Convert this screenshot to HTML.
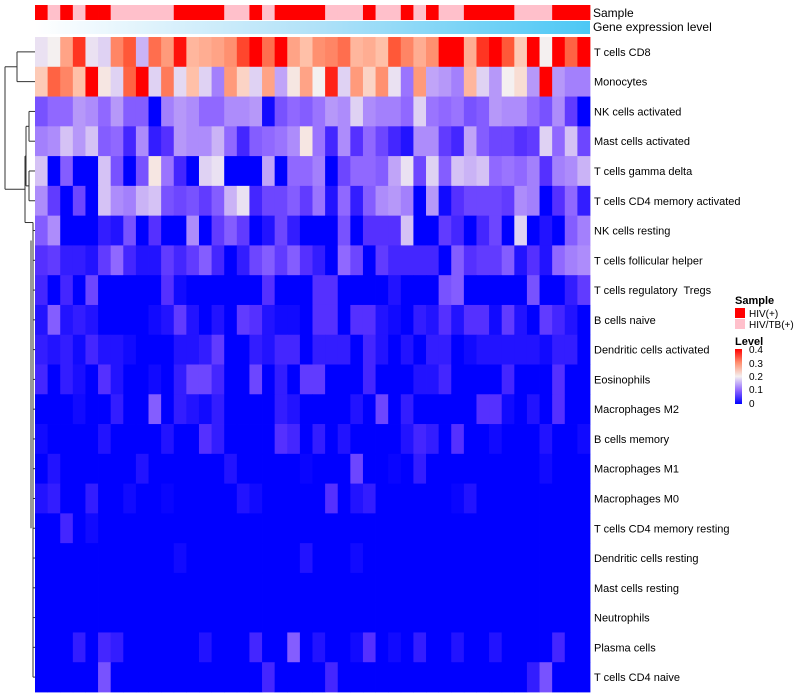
<!DOCTYPE html>
<html><head><meta charset="utf-8"><style>
body{margin:0;background:#fff;}
svg{display:block;font-family:"Liberation Sans",sans-serif;}
svg text{white-space:pre;}
</style></head><body>
<svg id="chart" width="800" height="700">
<defs>
<linearGradient id="geneGrad" x1="0" x2="1" y1="0" y2="0"><stop offset="0" stop-color="#ffffff"/><stop offset="0.5" stop-color="#b2e2f8"/><stop offset="1" stop-color="#4cc8f5"/></linearGradient>
<linearGradient id="levelGrad" x1="0" x2="0" y1="1" y2="0"><stop offset="0" stop-color="#0000ff"/><stop offset="0.25" stop-color="#9068ff"/><stop offset="0.5" stop-color="#f4f0f0"/><stop offset="0.75" stop-color="#ff9070"/><stop offset="1" stop-color="#ff0000"/></linearGradient>
</defs>
<g id="dendro" stroke="#333" stroke-width="1" fill="none"></g>
<g id="cells"></g>
<g id="annot"></g>
<g id="labels"></g>
<text x="593" y="17" font-size="12">Sample</text>
<text x="593" y="31" font-size="12">Gene expression level</text>
<g>
<text x="735" y="304" font-size="11" font-weight="bold">Sample</text>
<rect x="735" y="308" width="10" height="10" fill="#ff0000"/>
<text x="749" y="317" font-size="10">HIV(+)</text>
<rect x="735" y="319" width="10" height="10" fill="#ffc0cb"/>
<text x="749" y="328" font-size="10">HIV/TB(+)</text>
<text x="735" y="345" font-size="11" font-weight="bold">Level</text>
<rect x="735" y="349" width="7" height="55" fill="url(#levelGrad)"/>
<g font-size="10">
<text x="749" y="353">0.4</text><text x="749" y="367">0.3</text><text x="749" y="380">0.2</text><text x="749" y="393">0.1</text><text x="749" y="407">0</text>
</g>
</g>
</svg>
<script>
const rowNames=["T cells CD8","Monocytes","NK cells activated","Mast cells activated","T cells gamma delta","T cells CD4 memory activated","NK cells resting","T cells follicular helper","T cells regulatory  Tregs","B cells naive","Dendritic cells activated","Eosinophils","Macrophages M2","B cells memory","Macrophages M1","Macrophages M0","T cells CD4 memory resting","Dendritic cells resting","Mast cells resting","Neutrophils","Plasma cells","T cells CD4 naive"];
const sampleGroup=[1,0,1,0,1,1,0,0,0,0,0,1,1,1,1,0,0,1,0,1,1,1,1,0,0,0,1,0,0,1,0,1,0,0,1,1,1,1,0,0,0,1,1,1];
const r0=[.19,.2,.28,.37,.19,.18,.31,.35,.16,.33,.29,.39,.26,.27,.28,.3,.36,.4,.33,.4,.28,.25,.3,.31,.33,.26,.27,.25,.35,.31,.27,.3,.4,.4,.27,.37,.4,.35,.24,.4,.2,.4,.34,.4];
const r1=[.24,.34,.31,.25,.4,.21,.18,.34,.4,.18,.32,.185,.25,.18,.12,.29,.23,.18,.28,.15,.21,.28,.2,.38,.18,.29,.23,.3,.19,.11,.29,.15,.14,.12,.26,.18,.14,.2,.22,.14,.4,.14,.12,.12];
const r2=[.08,.1,.1,.14,.13,.1,.14,.09,.09,0,.12,.14,.13,.1,.1,.13,.13,.14,.01,.08,.1,.09,.11,.14,.13,.18,.13,.12,.12,.1,.18,.11,.1,.11,.08,.09,.14,.13,.13,.1,.08,.13,.06,0];
const r3=[.12,.13,.17,.14,.17,.09,.1,.04,.13,.03,.05,.14,.13,.13,.16,.1,.04,.09,.1,.11,.13,.21,.11,.04,.13,.05,.1,.07,.04,.02,.13,.13,.06,.04,.15,.09,.07,.07,.05,.06,.18,.1,.17,.07];
const r4=[.17,0,.09,0,0,.17,.08,0,.08,.21,.11,.04,0,.18,.19,0,0,0,.15,0,.1,.1,.12,0,.07,.1,.1,.09,.15,.19,.07,.18,.09,.17,.16,.17,.1,.11,.1,.12,.05,.12,.13,.16];
const r5=[.13,.06,0,.07,0,.17,.13,.12,.16,.17,.08,.07,.08,.06,.09,.16,.19,.04,.07,.07,.09,.06,.11,.02,.1,.03,.09,.13,.14,.12,0,.14,.01,.05,.07,.07,.07,.06,.13,.12,0,.05,.1,.03];
const r6=[.09,.13,0,0,0,.03,.02,.08,0,.05,0,0,.13,0,.06,.09,.06,0,.02,.07,.03,0,0,0,.08,0,.05,.05,.05,.17,0,0,.06,.04,0,.04,.07,0,.18,0,.02,0,.09,.12];
const r7=[.05,.06,.03,.03,.02,.06,.1,.04,.02,.02,.06,.04,.06,.09,.04,0,.03,.07,.09,.06,.09,.05,.03,0,.1,.07,0,.06,.04,.04,.04,.04,0,.09,.05,.06,.06,.09,.02,.05,.02,.1,.12,.13];
const r8=[.04,0,.04,0,.07,0,0,0,0,0,.05,.01,0,0,0,0,0,0,.05,0,0,0,.05,.05,0,0,0,0,.02,0,0,0,.08,.09,0,0,0,0,0,.08,0,0,.03,.06];
const r9=[.02,.09,.02,.03,.02,0,0,0,0,.01,.02,.06,.02,0,.02,0,.06,.05,.02,.01,.01,0,.05,.05,0,.05,.05,.02,.01,0,.03,.02,.05,.02,.05,.05,.01,.06,.02,0,.06,.04,.02,0];
const r10=[.03,.02,.03,.01,.04,.02,.02,.01,0,0,0,.02,.02,.03,.06,0,0,.03,.02,.04,.04,0,.03,.03,.03,0,.04,.02,0,.02,0,.03,.03,0,.01,.02,.02,.02,.02,.02,.01,.03,.03,0];
const r11=[.04,0,.03,.015,0,.05,.02,0,0,.01,0,.03,.07,.07,.04,0,0,.07,0,.03,0,.06,.06,0,0,0,.04,0,0,0,.02,.02,.04,0,0,0,0,.04,0,0,0,.05,0,0];
const r12=[0,0,0,.01,0,0,.03,0,0,.09,0,.03,.02,.01,.03,0,0,0,0,.03,.02,0,0,0,0,.02,0,.07,0,.03,0,0,0,0,0,.05,.05,.01,0,.02,0,.05,0,0];
const r13=[.01,0,0,0,0,.02,0,0,0,0,.02,0,0,.05,.03,0,0,0,0,.05,.04,0,.03,0,.02,0,0,0,0,.02,.04,.03,0,.05,0,0,.01,0,0,0,.02,0,0,.01];
const r14=[0,.02,0,0,0,0,0,0,.02,0,0,0,0,0,0,.02,0,0,0,0,0,.005,0,0,0,.07,0,0,.005,0,.03,0,0,0,0,0,0,0,0,0,.01,0,0,0];
const r15=[.02,.03,0,0,.03,0,0,.01,0,0,.005,0,0,0,0,0,.02,.01,0,0,0,0,0,.05,0,.02,.03,0,0,0,0,0,0,.005,.02,0,0,0,0,0,0,0,0,0];
const r16=[0,0,.04,0,.01,0,0,0,0,0,0,0,0,0,0,0,0,0,0,0,0,0,0,0,0,0,0,0,0,0,0,0,0,0,0,0,0,0,0,0,0,0,0,0];
const r17=[0,0,0,0,0,0,0,0,0,0,0,.01,0,0,0,0,0,0,0,0,0,.02,0,0,0,.01,0,0,0,0,0,0,0,0,0,0,0,0,0,0,0,0,0,0];
const r18=[0,0,0,0,0,0,0,0,0,0,0,0,0,0,0,0,0,0,0,0,0,0,0,0,0,0,0,0,0,0,0,0,0,0,0,0,0,0,0,0,0,0,0,0];
const r19=[0,0,0,0,0,0,0,0,0,0,0,0,0,0,0,0,0,0,0,0,0,0,0,0,0,0,0,0,0,0,0,0,0,0,0,0,0,0,0,0,0,0,0,0];
const r20=[0,0,0,.03,0,.04,.03,0,0,0,0,0,0,.02,0,0,0,.04,0,0,.09,0,.02,0,0,.01,.05,0,.01,0,.03,0,0,.02,0,0,.02,0,0,0,0,.04,0,0];
const r21=[0,0,0,0,0,.08,0,0,0,0,0,0,0,0,0,0,0,0,.04,0,0,0,0,.04,0,0,0,0,0,0,0,0,0,0,0,0,0,0,0,.03,.08,0,0,0];
const levelRows=[r0,r1,r2,r3,r4,r5,r6,r7,r8,r9,r10,r11,r12,r13,r14,r15,r16,r17,r18,r19,r20,r21];

const NS="http://www.w3.org/2000/svg";
const X0=35,X1=590,Y0=37,Y1=692;
const nCol=sampleGroup.length,nRow=rowNames.length;
const cw=(X1-X0)/nCol,rh=(Y1-Y0)/nRow;
const xCol=i=>X0+i*cw;
const yRow=i=>Y0+i*rh;
const stops=[[0,[0,0,255]],[.05,[85,48,255]],[.1,[144,104,255]],[.15,[192,164,248]],[.2,[244,240,240]],[.25,[255,192,168]],[.3,[255,144,112]],[.35,[255,88,56]],[.4,[255,0,0]]];
function color(v){
  v=Math.max(0,Math.min(.4,v));
  for(let k=1;k<stops.length;k++){
    if(v<=stops[k][0]){
      const a=stops[k-1],b=stops[k],t=(v-a[0])/(b[0]-a[0]);
      const c=a[1].map((x,j)=>Math.round(x+(b[1][j]-x)*t));
      return `rgb(${c[0]},${c[1]},${c[2]})`;
    }
  }
  return "rgb(255,0,0)";
}
function mk(tag,attrs,parent){const e=document.createElementNS(NS,tag);for(const k in attrs)e.setAttribute(k,attrs[k]);parent.appendChild(e);return e;}
const cells=document.getElementById('cells');
levelRows.forEach((row,r)=>{
  row.forEach((v,c)=>{
    const e=mk('rect',{x:xCol(c),y:yRow(r),width:cw+0.4,height:rh+0.4,fill:color(v)},cells);
    
    
  });
});
const annot=document.getElementById('annot');
sampleGroup.forEach((g,c)=>{
  const e=mk('rect',{x:xCol(c),y:5,width:cw+0.4,height:15,fill:g?'#ff0000':'#ffc0cb'},annot);
  
  
});
const gb=mk('rect',{x:X0,y:21,width:X1-X0,height:13,fill:'url(#geneGrad)'},annot);


const labels=document.getElementById('labels');
rowNames.forEach((n,r)=>{
  const t=mk('text',{x:594,y:yRow(r)+rh/2+4,'font-size':11,fill:'#000'},labels);
  t.textContent=n;
  
  
});
const d=document.getElementById('dendro');
const yc=i=>yRow(i)+rh/2;
function line(x1,y1,x2,y2){const e=mk('line',{x1,y1,x2,y2},d);}
line(35,yc(0),17,yc(0));line(35,yc(1),17,yc(1));line(17,yc(0),17,yc(1));
const m01=(yc(0)+yc(1))/2;line(17,m01,5,m01);
line(35,yc(2),29,yc(2));line(35,yc(3),29,yc(3));line(29,yc(2),29,yc(3));
line(35,yc(4),29,yc(4));line(35,yc(5),29,yc(5));line(29,yc(4),29,yc(5));
const m23=(yc(2)+yc(3))/2,m45=(yc(4)+yc(5))/2;
line(29,m23,26,m23);line(29,m45,26,m45);line(26,m23,26,m45);
const m25=(m23+m45)/2;
for(let i=6;i<nRow;i++)line(35,yc(i),33,yc(i));
line(33,yc(6),33,yc(nRow-1));
line(31,yc(6)+10,31,yc(16));
const mRest=yc(6)-8;
line(33,mRest,25,mRest);line(33,mRest,33,yc(6));
line(26,m25,25,m25);line(25,m25,25,mRest);
const mB=(m25+mRest)/2;line(25,mB,5,mB);
line(5,m01,5,mB);
</script>
</body></html>
